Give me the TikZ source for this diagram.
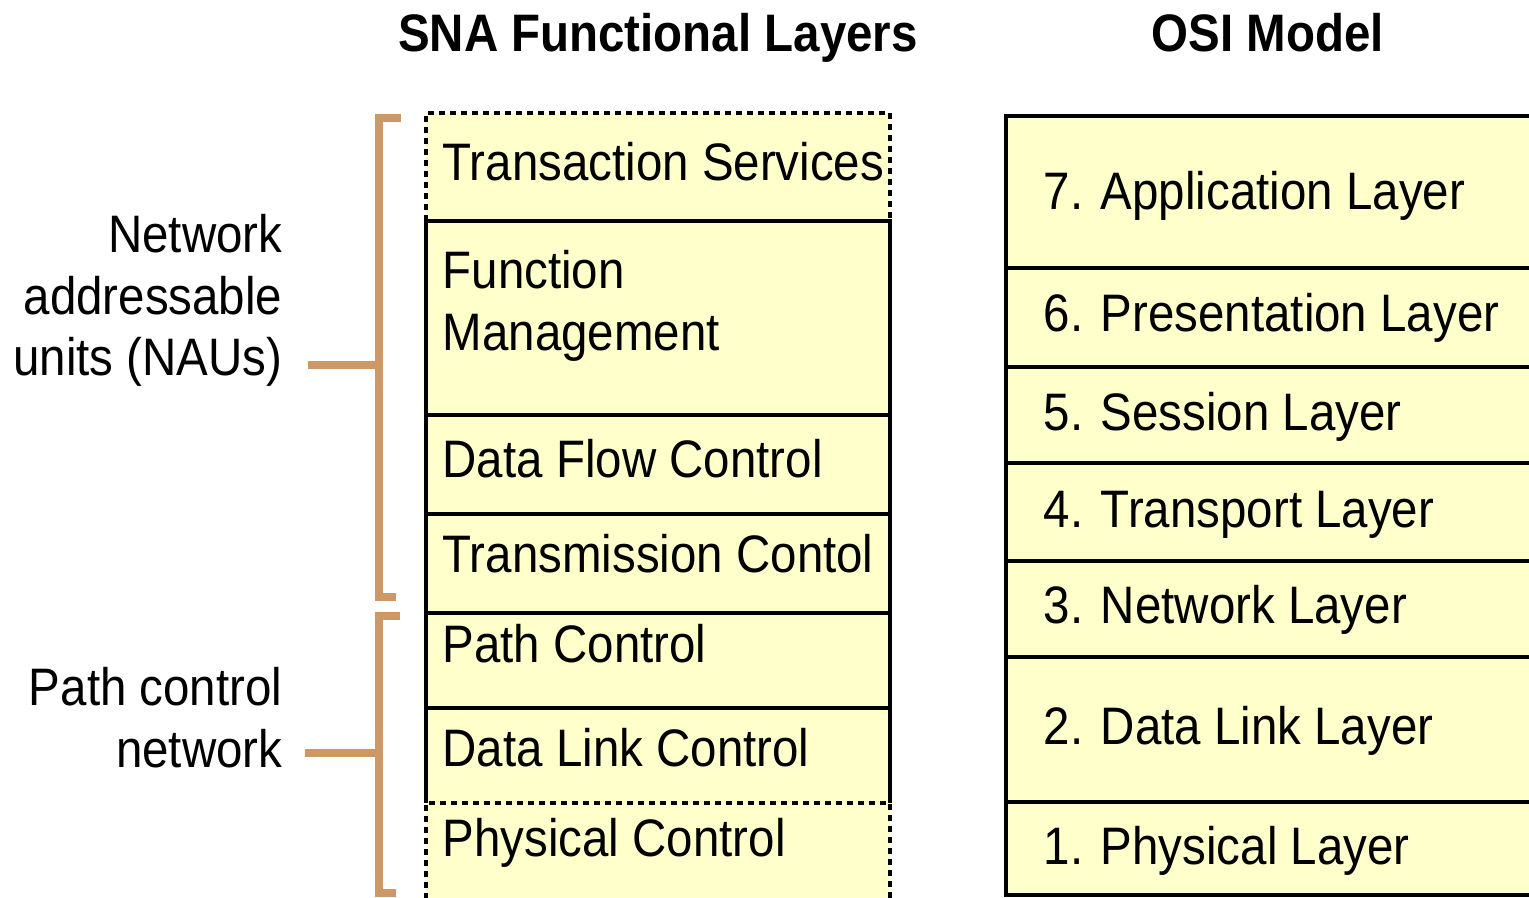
\documentclass[tikz,border=0pt]{standalone}
\usepackage{fontspec}
\setmainfont{Liberation Sans}[FakeStretch=0.9]
\usepackage{xcolor}
\usepackage{tikz}
\definecolor{layeryellow}{RGB}{255, 255, 204}
\definecolor{bracketbrown}{RGB}{204, 153, 102}

\begin{document}
\begin{tikzpicture}[
    x=0.01cm, y=-0.01cm,
    layer/.style={fill=layeryellow},
    edge/.style={line width=0.04cm},
    dashedge/.style={line width=0.04cm, dash pattern=on 0.06cm off 0.05cm},
    brace/.style={draw=bracketbrown, line width=0.08cm},
    lbl/.style={anchor=base west, inner sep=0pt, font=\fontsize{15}{17.5}\selectfont},
    multi/.style={inner sep=0pt, font=\fontsize{15}{17.5}\selectfont},
    title/.style={anchor=base, inner sep=0pt, font=\bfseries\fontsize{15}{18}\selectfont}
]
    \clip (0,0) rectangle (1529,898);
    \fill[white] (0,0) rectangle (1529,898);

    % titles
    \node[title] (snatitle) at (658,52) {SNA Functional Layers};
    \node[title] (ositle) at (1268,52) {OSI Model};

    % SNA column
    \fill[layer] (426,113) rectangle (890,910);
    \draw[dashedge] (426,221) -- (426,113) -- (890,113) -- (890,221);
    \draw[dashedge] (426,910) -- (426,803) -- (890,803) -- (890,910);
    \foreach \t/\b in {221/415, 415/514, 514/613, 613/708}
        \draw[edge] (426,\t) rectangle (890,\b);
    \draw[edge] (426,708) -- (426,803);
    \draw[edge] (890,708) -- (890,803);

    \node[lbl] (ts) at (442,181) {Transaction Services};
    \node[multi, anchor=north west, align=left] (fm) at (442,250) {Function\\Management};
    \node[lbl] (dfc) at (442,478) {Data Flow Control};
    \node[lbl] (tc) at (442,573) {Transmission Contol};
    \node[lbl] (pc) at (442,663) {Path Control};
    \node[lbl] (dlc) at (442,767) {Data Link Control};
    \node[lbl] (phc) at (442,857) {Physical Control};

    % OSI column
    \fill[layer] (1006,116) rectangle (1540,895);
    \draw[edge] (1006,116) rectangle (1540,895);
    \foreach \y in {268,367,463,561,657,802}
        \draw[edge] (1006,\y) -- (1540,\y);
    \foreach \n/\y/\txt in {7/210/Application Layer, 6/332/Presentation Layer,
                            5/431/Session Layer, 4/528/Transport Layer,
                            3/624/Network Layer, 2/745/Data Link Layer,
                            1/865/Physical Layer}
        \node[lbl] (osi\n) at (1043,\y) {\n. \txt};

    % brackets
    \node[multi, anchor=north east, align=right] (nau) at (283,214) {Network\\addressable\\units (NAUs)};
    \node[multi, anchor=north east, align=right] (pcn) at (283,667) {Path control\\network};
    \coordinate (naubr) at (379,365);
    \coordinate (pcnbr) at (379,753);
    \draw[brace] (401,118) -- (379,118) -- (379,597) -- (396,597);
    \draw[brace] (400,616) -- (379,616) -- (379,893) -- (396,893);
    \draw[brace, shorten >=0.25cm] (naubr) -- (naubr -| nau.east);
    \draw[brace, shorten >=0.22cm] (pcnbr) -- (pcnbr -| pcn.east);
\end{tikzpicture}
\end{document}
